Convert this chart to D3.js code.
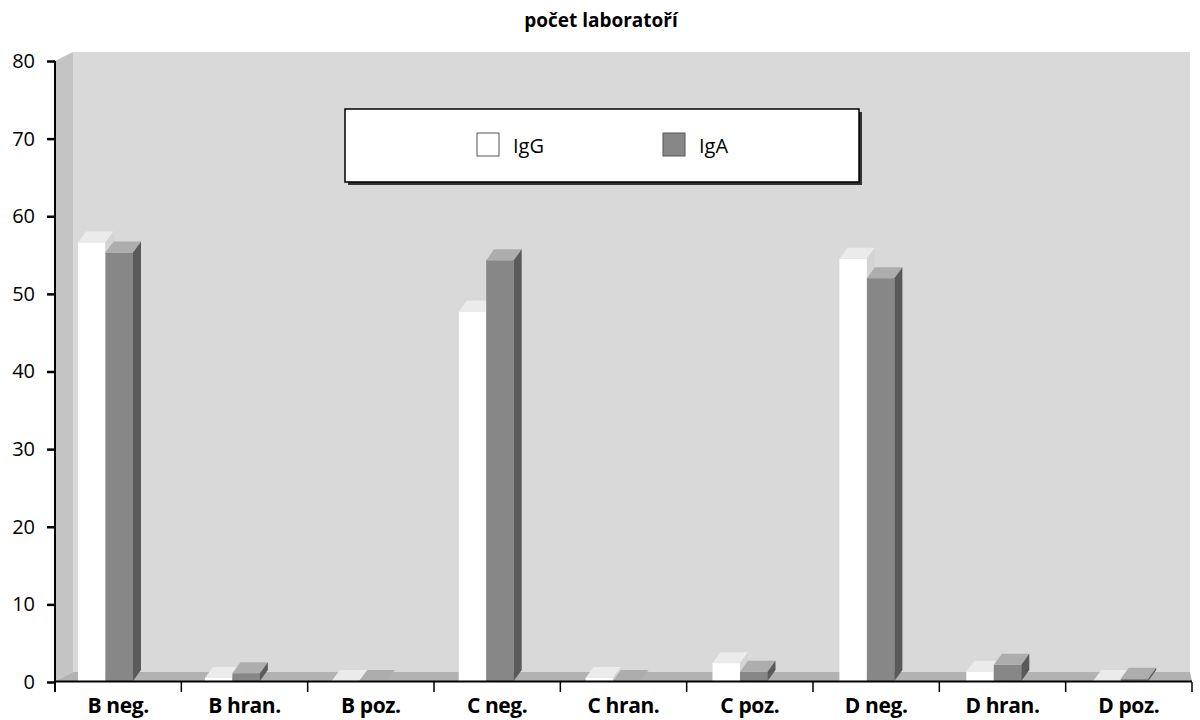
<!DOCTYPE html>
<html>
<head>
<meta charset="utf-8">
<script src="https://cdn.jsdelivr.net/npm/d3@7"></script>
<style>
  body { margin: 0; background: #fff; }
  text { font-family: "Open Sans", sans-serif; }
</style>
</head>
<body>
<svg id="chart" width="1200" height="720"></svg>
<script>
// data
var categories = ["B neg.", "B hran.", "B poz.", "C neg.", "C hran.", "C poz.", "D neg.", "D hran.", "D poz."];
var igG = [56.5, 0.4, 0, 47.6, 0.4, 2.3, 54.4, 1.2, 0];
var igA = [55.2, 1.0, 0, 54.2, 0, 1.2, 51.9, 2.1, 0.3];
var yTicks = [0, 10, 20, 30, 40, 50, 60, 70, 80];
var seriesNames = ["IgG", "IgA"];

var svg = d3.select("#chart");

var pLeft = 55, pRight = 1192, pBottom = 682, pTop = 61;
var wallDx = 18, wallDy = 9;     // depth of walls / floor
var barDx = 8, barDy = 11;       // depth of bars
var barW = 27.5;

var y = d3.scaleLinear().domain([0, 80]).range([pBottom, pTop]);
var x = d3.scaleBand().domain(categories).range([pLeft, pRight]);
var xBar = d3.scaleBand().domain(categories).range([pLeft, pLeft + 9 * 126.9]);

// colours per series: front, top, side
var shades = [
  {front: "#ffffff", top: "#ebebeb", side: "#d4d4d4"},
  {front: "#878787", top: "#adadad", side: "#5a5a5a"}
];

// back wall
svg.append("rect")
  .attr("x", pLeft + wallDx).attr("y", pTop - wallDy)
  .attr("width", pRight - 2 - pLeft - wallDx).attr("height", pBottom - 1 - pTop)
  .attr("fill", "#d9d9d9");

// left side wall
svg.append("polygon")
  .attr("points", [[pLeft, pTop], [pLeft + wallDx, pTop - wallDy], [pLeft + wallDx, pBottom - 1 - wallDy], [pLeft, pBottom - 1]].join(" "))
  .attr("fill", "#c4c4c4");

// floor
svg.append("polygon")
  .attr("points", [[pLeft, pBottom - 1], [pLeft + wallDx, pBottom - 1 - wallDy], [pRight - 2, pBottom - 1 - wallDy], [pRight, pBottom - 1]].join(" "))
  .attr("fill", "#b2b2b2");

// bars
var bars = svg.append("g");
categories.forEach(function(c, i) {
  [igG[i], igA[i]].forEach(function(v, s) {
    var x0 = xBar(c) + 23 + s * barW;
    var y0 = y(v) - 1, yb = pBottom - 1;
    var g = bars.append("g");
    g.append("rect")
      .attr("x", x0).attr("y", y0)
      .attr("width", barW).attr("height", Math.max(0, yb - y0))
      .attr("fill", shades[s].front);
    g.append("polygon")
      .attr("points", [[x0, y0], [x0 + barW, y0], [x0 + barW + barDx, y0 - barDy], [x0 + barDx, y0 - barDy]].join(" "))
      .attr("fill", shades[s].top);
    g.append("polygon")
      .attr("points", [[x0 + barW, y0], [x0 + barW + barDx, y0 - barDy], [x0 + barW + barDx, yb - barDy], [x0 + barW, yb]].join(" "))
      .attr("fill", shades[s].side);
  });
});

// y axis
var yAxis = d3.axisLeft(y).tickValues(yTicks).tickSize(8).tickPadding(12).tickSizeOuter(0);
var ya = svg.append("g").attr("transform", "translate(" + pLeft + ",0)").call(yAxis);
ya.select(".domain").remove();
ya.selectAll(".tick line").attr("stroke", "#000").attr("stroke-width", 2.5);
ya.selectAll(".tick text").attr("font-size", 20).attr("fill", "#000")
  .attr("font-family", "Open Sans, sans-serif");
svg.append("line")
  .attr("x1", pLeft).attr("x2", pLeft).attr("y1", pTop).attr("y2", pBottom + 10)
  .attr("stroke", "#000").attr("stroke-width", 2);

// x axis
var xAxis = d3.axisBottom(x).tickSize(0).tickPadding(16);
var xa = svg.append("g").attr("transform", "translate(0," + pBottom + ")").call(xAxis);
xa.select(".domain").remove();
xa.selectAll(".tick text").attr("font-size", 21).attr("font-weight", "bold")
  .attr("fill", "#000").attr("letter-spacing", "-0.4")
  .attr("font-family", "Open Sans, sans-serif");
svg.append("line")
  .attr("x1", pLeft).attr("x2", pRight).attr("y1", pBottom - 0.5).attr("y2", pBottom - 0.5)
  .attr("stroke", "#000").attr("stroke-width", 2);
svg.selectAll(".xtick")
  .data(categories.slice(1).concat(["end"]))
  .enter().append("line")
  .attr("x1", function(d, i) { return i < 8 ? x(d) : pRight; })
  .attr("x2", function(d, i) { return i < 8 ? x(d) : pRight; })
  .attr("y1", pBottom).attr("y2", pBottom + 10)
  .attr("stroke", "#000").attr("stroke-width", 1.5);

// title
svg.append("text")
  .attr("x", 601).attr("y", 27)
  .attr("text-anchor", "middle")
  .attr("font-size", 19).attr("font-weight", "bold")
  .text("počet laboratoří");

// legend
var lg = svg.append("g");
lg.append("rect").attr("x", 348).attr("y", 112).attr("width", 514).attr("height", 73).attr("fill", "#333");
lg.append("rect").attr("x", 345).attr("y", 109).attr("width", 514).attr("height", 73)
  .attr("fill", "#fff").attr("stroke", "#000").attr("stroke-width", 1.5);
var legX = [477, 663];
seriesNames.forEach(function(n, i) {
  lg.append("rect").attr("x", legX[i]).attr("y", 133).attr("width", 22).attr("height", 23)
    .attr("fill", shades[i].front).attr("stroke", "#555").attr("stroke-width", 1);
  lg.append("text").attr("x", legX[i] + 36).attr("y", 153)
    .attr("font-size", 20).text(n);
});
</script>
</body>
</html>
